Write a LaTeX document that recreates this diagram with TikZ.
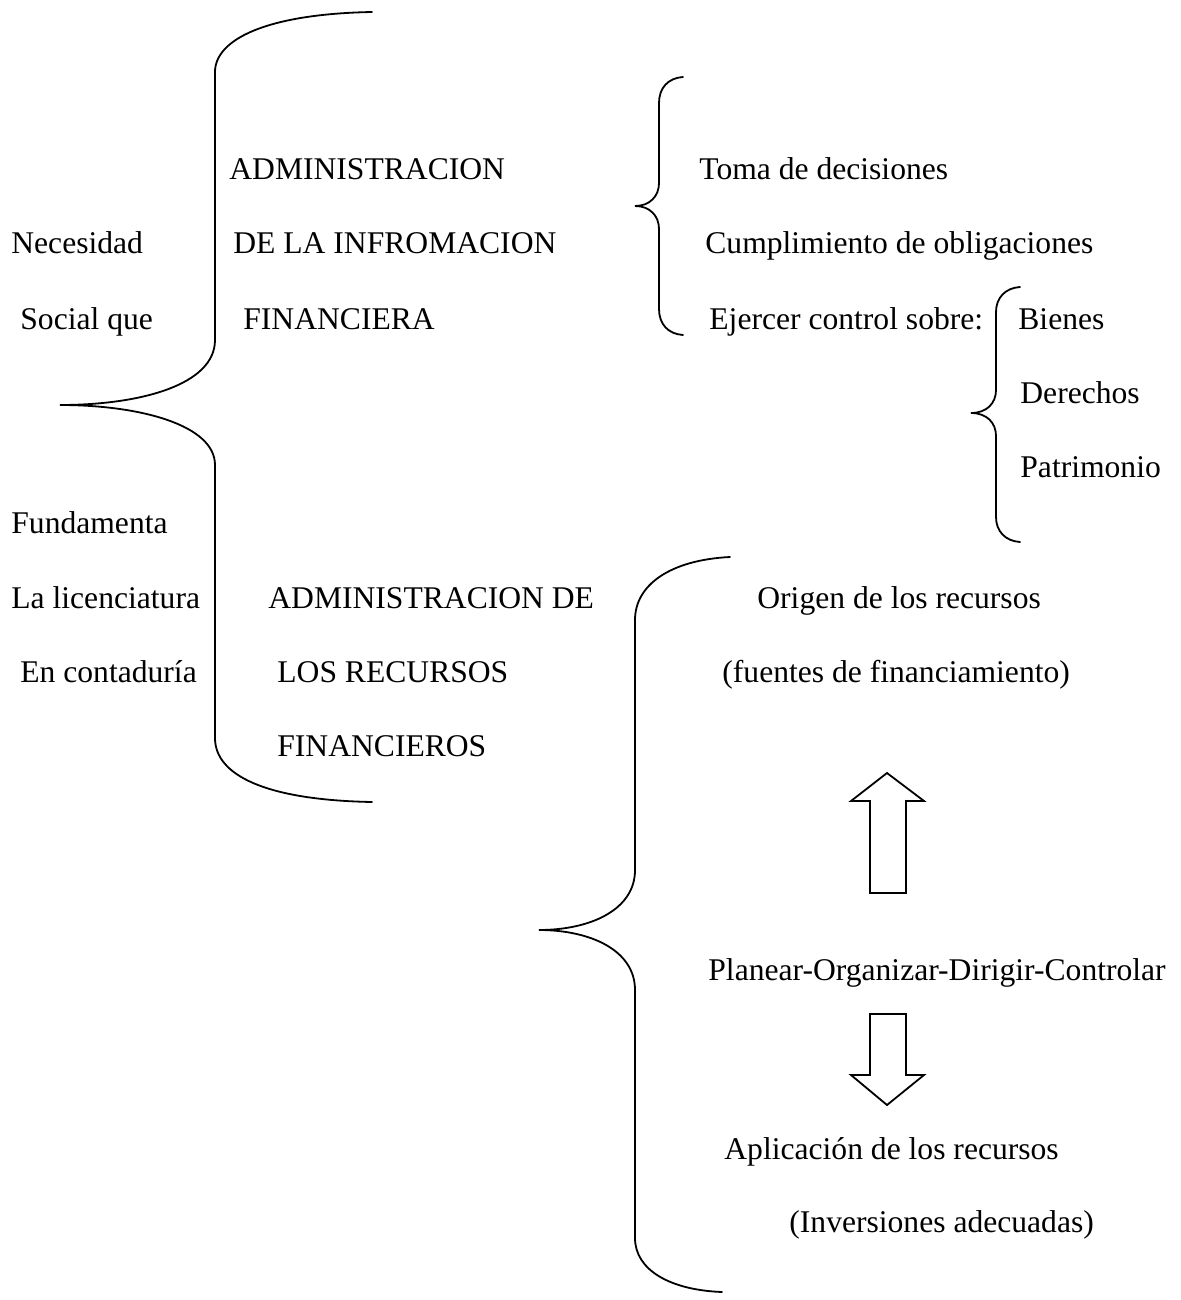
\documentclass[tikz,border=0pt]{standalone}
\usepackage{fontspec}
\setmainfont{Liberation Serif}
\begin{document}
\begin{tikzpicture}[x=0.5pt,y=-0.5pt,
  txt/.style={anchor=base west, inner sep=0pt, font=\fontsize{15.8pt}{18pt}\selectfont},
  bracket/.style={line width=0.9pt, line cap=round},
  blockarrow/.style={line width=0.9pt, line join=miter}]
\useasboundingbox (0,0) rectangle (1181,1300);

% left column
\node[txt] (nec)  at (11,254)  {Necesidad};
\node[txt] (soc)  at (20,329)  {Social que};
\node[txt] (fun)  at (11,533)  {Fundamenta};
\node[txt] (lic)  at (11,608)  {La licenciatura};
\node[txt] (cont) at (20,682)  {En contaduría};

% middle column
\node[txt] (adm1) at (229,180) {ADMINISTRACION};
\node[txt] (inf)  at (233,254) {DE LA INFROMACION};
\node[txt] (fin1) at (243,329) {FINANCIERA};
\node[txt] (adm2) at (268,608) {ADMINISTRACION DE};
\node[txt] (rec)  at (277,682) {LOS RECURSOS};
\node[txt] (fin2) at (277,756) {FINANCIEROS};

% upper right
\node[txt] (toma) at (699,180) {Toma de decisiones};
\node[txt] (cump) at (705,254) {Cumplimiento de obligaciones};
\node[txt] (ejer) at (709,329) {Ejercer control sobre:};
\node[txt] (bien) at (1018,329) {Bienes};
\node[txt] (der)  at (1020,403) {Derechos};
\node[txt] (pat)  at (1020,477) {Patrimonio};

% lower right
\node[txt] (orig) at (757,608) {Origen de los recursos};
\node[txt] (fue)  at (722,682) {(fuentes de financiamiento)};
\node[txt] (plan) at (708,980) {Planear-Organizar-Dirigir-Controlar};
\node[txt] (apl)  at (724,1159) {Aplicación de los recursos};
\node[txt] (inv)  at (789,1232) {(Inversiones adecuadas)};

% main brace
\draw[bracket] (372,12) .. controls (265,14) and (215,40) .. (215,72)
  -- (215,340) .. controls (215,385) and (140,405) .. (60,405)
  .. controls (140,405) and (215,425) .. (215,465)
  -- (215,738) .. controls (215,775) and (265,800) .. (372,802);

% brace of the uses of the information
\draw[bracket] (683,77) .. controls (668,78) and (659,88) .. (659,103)
  -- (659,183) .. controls (659,196) and (650,206) .. (635,206)
  .. controls (650,206) and (659,216) .. (659,229)
  -- (659,309) .. controls (659,324) and (668,334) .. (683,335);

% brace of the controlled items
\draw[bracket] (1020,287) .. controls (1005,288) and (996,298) .. (996,312)
  -- (996,390) .. controls (996,403) and (987,413) .. (971,413)
  .. controls (987,413) and (996,423) .. (996,436)
  -- (996,517) .. controls (996,531) and (1005,541) .. (1020,542);

% brace of the financial resources
\draw[bracket] (730,557) .. controls (670,560) and (635,585) .. (635,620)
  -- (635,870) .. controls (635,910) and (590,930) .. (539,930)
  .. controls (590,930) and (635,950) .. (635,990)
  -- (635,1238) .. controls (635,1270) and (670,1290) .. (722,1292);

% block arrows
\draw[blockarrow] (870,893) -- (870,801) -- (851,801) -- (887,773)
  -- (924,801) -- (906,801) -- (906,893) -- cycle;
\draw[blockarrow] (870,1014) -- (870,1075) -- (851,1075) -- (887,1105)
  -- (924,1075) -- (906,1075) -- (906,1014) -- cycle;
\end{tikzpicture}
\end{document}
